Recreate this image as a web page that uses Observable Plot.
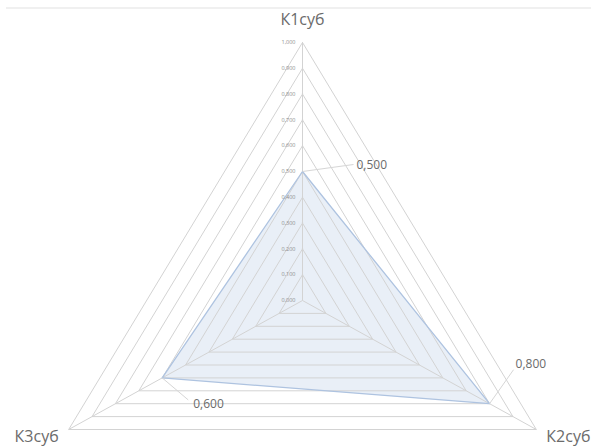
<!DOCTYPE html>
<html>
<head>
<meta charset="utf-8">
<script src="https://cdn.jsdelivr.net/npm/d3@7"></script>
<script src="https://cdn.jsdelivr.net/npm/@observablehq/plot@0.6"></script>
<style>
  html, body { margin: 0; padding: 0; background: #fff; }
  #chart { position: relative; width: 591px; height: 448px; }
  #chart .border { position: absolute; left: 6px; right: 0; top: 7px; height: 2px; background: #f0f0f0; }
</style>
</head>
<body>
<div id="chart"><div class="border"></div></div>
<script>
// ---- data ----
const categories = ["К1суб", "К2суб", "К3суб"];
const values = [0.5, 0.8, 0.6];
const valueLabels = ["0,500", "0,800", "0,600"];
const levels = [0, 0.1, 0.2, 0.3, 0.4, 0.5, 0.6, 0.7, 0.8, 0.9, 1.0];
const levelLabels = ["0,000", "0,100", "0,200", "0,300", "0,400", "0,500", "0,600", "0,700", "0,800", "0,900", "1,000"];

// ---- layout / style ----
const W = 591, H = 448;
const mL = 32, mR = 19, mT = 42, mB = 19;
const kx = (W - mL - mR) / 2;      // px per unit in x
const ky = (H - mT - mB) / 1.5;    // px per unit in y
// label offsets in pixels (style only)
const labelOffsets = [[54, -6], [26, -40], [31, 26]];
const leaderEnds = [[51, -7], [24, -34], [26, 22]];
const catStyle = [
  {dx: 0, dy: -23, anchor: "middle"},
  {dx: 10, dy: 7, anchor: "start"},
  {dx: -10, dy: 7, anchor: "end"}
];

const angle = i => i * 2 * Math.PI / categories.length;
const px = (i, r) => r * Math.sin(angle(i));
const py = (i, r) => r * Math.cos(angle(i));

// grid polygons
const grid = [];
for (const l of levels) {
  if (l === 0) continue;
  for (let i = 0; i <= categories.length; i++) {
    const j = i % categories.length;
    grid.push({level: l, x: px(j, l), y: py(j, l)});
  }
}
const spokes = categories.map((c, i) => ({x: px(i, 1), y: py(i, 1), name: c, i}));
const pts = values.map((v, i) => ({x: px(i, v), y: py(i, v), v, label: valueLabels[i], i}));
const ticks = levels.map((l, k) => ({x: 0, y: l, label: levelLabels[k]}));

const gray = "#d3d3d3";
const textGray = "#6b6b6b";

const plot = Plot.plot({
  width: W, height: H,
  marginLeft: mL, marginRight: mR, marginTop: mT, marginBottom: mB,
  x: {domain: [-1, 1], axis: null},
  y: {domain: [-0.5, 1], axis: null},
  style: {fontFamily: "'Open Sans', 'Liberation Sans', sans-serif", background: "transparent"},
  marks: [
    Plot.line(pts, {x: "x", y: "y", curve: "linear-closed", fill: "#dbe5f2", fillOpacity: 0.6, stroke: "none"}),
    Plot.line(grid, {x: "x", y: "y", z: "level", stroke: gray, strokeWidth: 1}),
    Plot.link(spokes, {x1: 0, y1: 0, x2: "x", y2: "y", stroke: gray, strokeWidth: 1}),
    Plot.line(pts, {x: "x", y: "y", curve: "linear-closed", stroke: "#aec3e0", strokeWidth: 1.3}),
    Plot.link(pts, {
      x1: "x", y1: "y",
      x2: d => d.x + leaderEnds[d.i][0] / kx,
      y2: d => d.y - leaderEnds[d.i][1] / ky,
      stroke: "#d6d6d6", strokeWidth: 1
    }),
    Plot.text(ticks, {x: "x", y: "y", text: "label", dx: -7, textAnchor: "end", fontSize: 5.5, fill: "#8c8c8c"}),
    ...pts.map(d => Plot.text([d], {x: "x", y: "y", text: "label", dx: labelOffsets[d.i][0], dy: labelOffsets[d.i][1], fontSize: 12, fill: textGray, textAnchor: "start"})),
    ...spokes.map(d => Plot.text([d], {x: "x", y: "y", text: "name", dx: catStyle[d.i].dx, dy: catStyle[d.i].dy, textAnchor: catStyle[d.i].anchor, fontSize: 16, fill: textGray}))
  ]
});
plot.style.position = "absolute";
plot.style.left = "0";
plot.style.top = "0";
document.getElementById("chart").appendChild(plot);
</script>
</body>
</html>
